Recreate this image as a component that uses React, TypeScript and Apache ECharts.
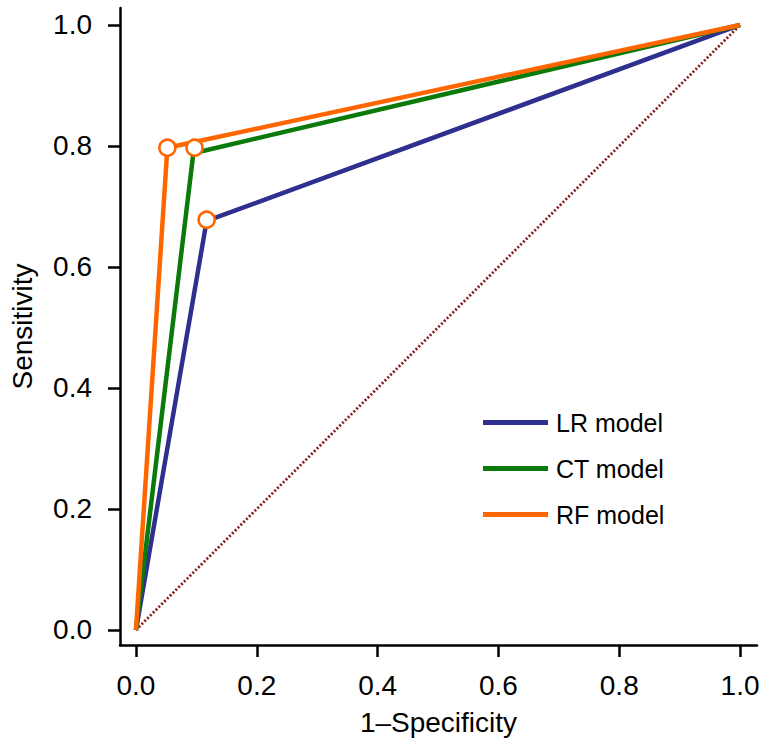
import React, { useEffect, useRef } from "react";
import * as echarts from "echarts";

const tickValues = [0, 0.2, 0.4, 0.6, 0.8, 1.0];
const seriesNames = ["LR model", "CT model", "RF model"];
const lrX = [0, 0.117, 1];
const lrY = [0, 0.676, 1];
const ctX = [0, 0.095, 1];
const ctY = [0, 0.788, 1];
const rfX = [0, 0.052, 1];
const rfY = [0, 0.797, 1];
const cutoffX = [0.117, 0.097, 0.052];
const cutoffY = [0.678, 0.797, 0.797];
const refX = [0, 1];
const refY = [0, 1];

const zip = (xs: number[], ys: number[]) => xs.map((x, i) => [x, ys[i]]);

const FONT = '"Liberation Sans", Arial, Helvetica, sans-serif';

export default function App() {
  const ref = useRef<HTMLDivElement>(null);
  useEffect(() => {
    if (!ref.current) return;
    const chart = echarts.init(ref.current, undefined, { renderer: "svg" });
    const axisCommon = {
      type: "value" as const,
      axisLine: { show: true, onZero: false, lineStyle: { color: "#000", width: 2.5 } },
      axisTick: {
        show: true,
        length: 12,
        inside: false,
        customValues: tickValues,
        lineStyle: { color: "#000", width: 2.5 },
      },
      axisLabel: {
        customValues: tickValues,
        color: "#000",
        fontSize: 28,
        fontFamily: FONT,
        formatter: (v: number) => v.toFixed(1),
      },
      splitLine: { show: false },
      nameLocation: "middle" as const,
      nameTextStyle: { color: "#000", fontSize: 28, fontFamily: FONT },
    };
    chart.setOption({
      animation: false,
      backgroundColor: "#fff",
      textStyle: { fontFamily: FONT },
      grid: { left: 119, right: 8, top: 8, bottom: 105, containLabel: false },
      xAxis: {
        ...axisCommon,
        min: -0.0264,
        max: 1.028,
        name: "1–Specificity",
        nameGap: 63,
        axisLabel: { ...axisCommon.axisLabel, margin: 26 },
      },
      yAxis: {
        ...axisCommon,
        min: -0.0248,
        max: 1.028,
        name: "Sensitivity",
        nameGap: 84,
        axisLabel: { ...axisCommon.axisLabel, margin: 28 },
      },
      legend: {
        data: seriesNames,
        orient: "vertical",
        left: 478,
        top: 405,
        icon: "rect",
        itemWidth: 65,
        itemHeight: 5,
        itemGap: 21,
        textStyle: {
          color: "#000",
          fontSize: 25,
          fontFamily: FONT,
          lineHeight: 24,
          padding: [0, 0, 0, 3],
        },
      },
      series: [
        {
          name: "ref",
          type: "line",
          data: zip(refX, refY),
          showSymbol: false,
          symbol: "none",
          lineStyle: { color: "#8B1A1A", width: 2.8, type: [2, 2] },
          z: 1,
        },
        {
          name: "LR model",
          type: "line",
          data: zip(lrX, lrY),
          symbol: "none",
          color: "#2E2F8F",
          lineStyle: { color: "#2E2F8F", width: 4.5 },
          z: 2,
        },
        {
          name: "CT model",
          type: "line",
          data: zip(ctX, ctY),
          symbol: "none",
          color: "#0A7A0A",
          lineStyle: { color: "#0A7A0A", width: 4.5 },
          z: 3,
        },
        {
          name: "RF model",
          type: "line",
          data: zip(rfX, rfY),
          symbol: "none",
          color: "#FF6600",
          lineStyle: { color: "#FF6600", width: 4.5 },
          z: 4,
        },
        {
          name: "cutoff",
          type: "scatter",
          data: zip(cutoffX, cutoffY),
          symbol: "circle",
          symbolSize: 16,
          itemStyle: { color: "#fff", borderColor: "#FF6600", borderWidth: 2.6, opacity: 1 },
          z: 5,
        },
      ],
    });
    return () => chart.dispose();
  }, []);
  return (
    <div
      ref={ref}
      style={{ position: "fixed", left: 0, top: 0, width: 765, height: 750 }}
    />
  );
}
